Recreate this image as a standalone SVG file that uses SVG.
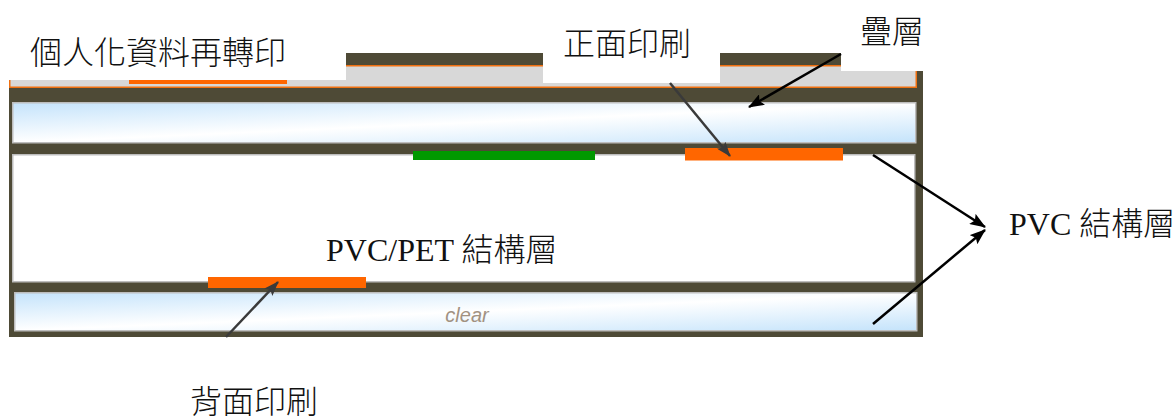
<svg xmlns="http://www.w3.org/2000/svg" width="1176" height="418" viewBox="0 0 1176 418">
<defs>
<style>
.lbl{font-family:"Liberation Serif","Noto Sans CJK TC",serif;font-size:32px;fill:#111;font-weight:300}
.box{fill:#ffffff}
.layer{stroke:#bdbdbd;stroke-width:1.5}
.ink{fill:#ff6600}
.blk{fill:none;stroke:#000;stroke-width:2.5}
.gry{fill:none;stroke:#3a3a3a;stroke-width:2.5}
</style>
<linearGradient id="blue" x1="0" y1="0" x2="1" y2="1">
<stop offset="0" stop-color="#c4e3fb"/>
<stop offset="0.5" stop-color="#ffffff"/>
<stop offset="1" stop-color="#c4e3fb"/>
</linearGradient>
<marker id="ahB" viewBox="0 0 16 12" markerWidth="16" markerHeight="12" refX="15" refY="6" orient="auto" markerUnits="userSpaceOnUse">
<path d="M0,0 L16,6 L0,12 L3,6 z" fill="#000"/>
</marker>
<marker id="ahG" viewBox="0 0 15 11" markerWidth="15" markerHeight="11" refX="14" refY="5.5" orient="auto" markerUnits="userSpaceOnUse">
<path d="M0,0 L15,5.5 L0,11 L3,5.5 z" fill="#3a3a3a"/>
</marker>
</defs>
<rect width="1176" height="418" fill="#ffffff"/>

<g id="card">
<rect x="9" y="53" width="914" height="284" fill="#4e4a36"/>
<rect id="overlay" x="9.75" y="65.75" width="906.5" height="21.5" fill="#d8d8d8" stroke="#f07010" stroke-width="1.5"/>
<rect id="lamination" class="layer" x="12.75" y="102.75" width="903" height="40" fill="url(#blue)"/>
<rect id="pvc-core" class="layer" x="12.75" y="154.75" width="902" height="127" fill="#ffffff"/>
<rect id="clear-layer" class="layer" x="14.75" y="292.75" width="902" height="38" fill="url(#blue)"/>
<text x="467" y="322" text-anchor="middle" font-family="Liberation Sans, Arial, sans-serif" font-size="20" font-style="italic" fill="#a29282">clear</text>
</g>

<g id="prints">
<rect id="transfer-print" class="ink" x="129" y="78" width="158" height="6"/>
<rect id="green-print" x="413" y="151" width="182" height="9" fill="#009900"/>
<rect id="front-print" class="ink" x="685" y="148" width="158" height="12.5"/>
<rect id="back-print" class="ink" x="208" y="277" width="158" height="11"/>
</g>

<g id="label-transfer">
<rect class="box" x="0" y="0" width="346" height="80"/>
<text class="lbl" x="30" y="64">個人化資料再轉印</text>
</g>
<g id="label-front">
<rect class="box" x="543" y="0" width="177" height="83"/>
<text class="lbl" x="563" y="55">正面印刷</text>
</g>
<g id="label-laminate">
<rect class="box" x="841" y="0" width="335" height="71"/>
<text class="lbl" x="860" y="43">疊層</text>
</g>
<g id="label-pvcpet">
<text class="lbl" x="326" y="261">PVC/PET 結構層</text>
</g>
<g id="label-pvc">
<text class="lbl" x="1009" y="235">PVC 結構層</text>
</g>
<g id="label-back">
<text class="lbl" x="190" y="413">背面印刷</text>
</g>

<g id="connectors">
<path class="gry" d="M670,83 L730,156" marker-end="url(#ahG)"/>
<path class="blk" d="M841,54 L749,107" marker-end="url(#ahB)"/>
<path class="blk" d="M873,155 L985,227" marker-end="url(#ahB)"/>
<path class="blk" d="M873,324 L985,230" marker-end="url(#ahB)"/>
<path class="gry" d="M226,337 L278,282" marker-end="url(#ahG)"/>
</g>
</svg>
